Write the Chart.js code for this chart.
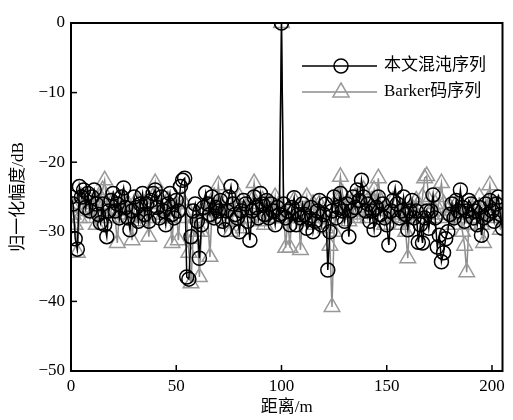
<!DOCTYPE html>
<html>
<head>
<meta charset="utf-8">
<script src="https://cdn.jsdelivr.net/npm/chart.js@4/dist/chart.umd.min.js"></script>
<style>
  html, body { margin: 0; padding: 0; background: #fff; }
  canvas { display: block; }
</style>
</head>
<body>
<canvas id="chart" width="513" height="420"></canvas>
<script>
// Sidelobe data, one value per metre (0..205)
const chaosValues = [
  -25, -26, -31, -32.5, -23.5, -25, -24, -26.5, -24.5, -27,
  -25, -24, -26, -27.5, -28.7, -26, -29, -30.7, -27, -25.5,
  -24.5, -27, -26, -28, -25, -23.7, -26.5, -28, -29.7, -27,
  -25, -26.5, -28.5, -26, -24.5, -27.5, -26, -28.5, -25.5, -24.5,
  -24, -26.5, -28, -25, -27, -29, -26, -24.5, -27.5, -28,
  -25.5, -27, -23.5, -22.6, -22.3, -36.5, -36.8, -30.7, -27, -26,
  -28.5, -33.8, -29, -26.5, -24.4, -26, -27.5, -25, -28, -26.5,
  -27, -25.5, -28.5, -29.7, -27, -25, -23.5, -26, -27.5, -28,
  -30, -27, -25.5, -26, -28.5, -31.2, -27, -25, -26.5, -28,
  -24.5, -26, -27.5, -25.5, -28, -26, -27, -29, -26.5, -27.5,
  0, -26, -28, -27, -29, -26.5, -25.1, -29, -27.5, -28,
  -26, -27.5, -29.5, -28, -26.5, -30, -28.5, -27, -25.5, -29,
  -27.5, -26, -35.5, -30, -27, -25, -28, -26.5, -24.5, -27,
  -28.5, -26, -30.7, -27, -25, -26.5, -24, -25.5, -22.6, -25,
  -27, -26, -28.5, -27, -29.7, -26.5, -25, -27.5, -26, -28,
  -29, -31.9, -27, -25.5, -23.7, -26, -28, -27, -25, -27.5,
  -29.7, -27, -25.5, -28, -27, -31.5, -29, -31.6, -28, -27,
  -29.5, -27, -24.7, -28, -32.2, -30.5, -34.3, -33, -31, -30,
  -27.5, -26, -28, -25.5, -27, -24, -26.5, -28.5, -27, -25.5,
  -26, -28, -27, -29, -26.5, -30.5, -28, -26, -27.5, -25.5,
  -27, -28.5, -26, -25, -27.5, -29.5
];

const barkerValues = [
  -26, -27.5, -29, -33, -28, -25, -26.5, -27, -25, -28,
  -26, -27, -29, -26.5, -25, -24, -22.6, -26, -28, -27,
  -25.5, -28, -31.6, -27, -26, -25, -27.5, -26, -28, -31.2,
  -27, -25.5, -26, -28.5, -27, -26, -28, -30.7, -26.5, -25,
  -23, -26, -27.5, -28, -26, -27, -25.5, -28, -31.6, -27,
  -26, -31.2, -27, -25.5, -26, -28, -33, -37.4, -31, -28,
  -30, -36.5, -30, -27, -26, -28, -33.6, -27, -25, -26.5,
  -23.3, -26, -28, -27, -25.5, -28.5, -30, -27, -26, -28,
  -25, -27, -29.5, -26.5, -27, -28, -25.5, -23, -26, -28.5,
  -27, -25.5, -29, -27, -26, -28, -27.5, -25, -28, -26,
  0, -27, -32.3, -28, -32.3, -27, -25.5, -28, -26.5, -32.6,
  -28, -27, -25, -28.5, -27, -26, -29, -27.5, -26, -28,
  -27, -29.5, -28, -32, -40.8, -30, -27, -25, -22.1, -24.5,
  -27, -26, -28.5, -26, -27.5, -25, -28, -26, -27, -24,
  -26.5, -28, -27, -25.5, -24, -26, -22.3, -25.5, -27, -29,
  -26.5, -28, -27, -25.5, -28, -26, -27.5, -29, -27, -30,
  -33.8, -28, -26.5, -27, -25.5, -28, -27, -25, -22.3, -22,
  -25.5, -27, -28, -26, -27.5, -25, -23, -26, -27.5, -28,
  -26.5, -27, -29, -26, -27.5, -28, -30, -32, -35.8, -29,
  -27, -26, -28, -27.5, -25, -29, -31.6, -27, -25.5, -23.3,
  -26, -27.5, -28, -26, -29.7, -27
];

const distance = chaosValues.map((v, i) => i);
const xTicks = [0, 50, 100, 150, 200];
const yTicks = [-50, -40, -30, -20, -10, 0];
const seriesNames = ['本文混沌序列', 'Barker码序列'];

const serif = '"Liberation Serif", "DejaVu Serif", "Noto Sans CJK SC", serif';

function toPoints(values) {
    return values.map((v, i) => ({ x: distance[i], y: v }));
}

// Frame, inward ticks and the legend
const framePlugin = {
    id: 'frame',
    afterDraw(chart) {
        const ctx = chart.ctx;
        const area = chart.chartArea;
        const xs = chart.scales.x;
        const ys = chart.scales.y;
        ctx.save();
        ctx.strokeStyle = '#000';
        ctx.lineWidth = 1.5;
        xTicks.forEach(t => {
            const px = xs.getPixelForValue(t);
            ctx.beginPath();
            ctx.moveTo(px, area.bottom);
            ctx.lineTo(px, area.bottom - 6);
            ctx.stroke();
        });
        yTicks.forEach(t => {
            const py = ys.getPixelForValue(t);
            ctx.beginPath();
            ctx.moveTo(area.left, py);
            ctx.lineTo(area.left + 6, py);
            ctx.stroke();
        });
        ctx.lineWidth = 2;
        ctx.strokeRect(area.left, area.top, area.right - area.left, area.bottom - area.top);

        // legend
        const items = chart.data.datasets;
        const lx0 = 302, lx1 = 377, mx = 341;
        const rows = [66, 92];
        ctx.font = '17px ' + serif;
        ctx.textBaseline = 'middle';
        ctx.textAlign = 'left';
        items.forEach((ds, i) => {
            const y = rows[i];
            ctx.strokeStyle = ds.borderColor;
            ctx.lineWidth = ds.borderWidth;
            ctx.beginPath();
            ctx.moveTo(lx0, y);
            ctx.lineTo(lx1, y);
            ctx.stroke();
            ctx.strokeStyle = ds.pointBorderColor;
            ctx.lineWidth = ds.pointBorderWidth;
            ctx.fillStyle = '#fff';
            ctx.beginPath();
            if (ds.pointStyle === 'circle') {
                ctx.arc(mx, y, ds.pointRadius, 0, Math.PI * 2);
            } else {
                const r = ds.pointRadius;
                ctx.moveTo(mx, y - r);
                ctx.lineTo(mx + r * 0.9, y + r * 0.55);
                ctx.lineTo(mx - r * 0.9, y + r * 0.55);
                ctx.closePath();
            }
            ctx.stroke();
            ctx.fillStyle = '#000';
            ctx.fillText(ds.label, 384, y);
        });
        ctx.restore();
    }
};

new Chart(document.getElementById('chart'), {
    type: 'line',
    data: {
        datasets: [{
            label: seriesNames[0],
            data: toPoints(chaosValues),
            borderColor: '#000',
            borderWidth: 1.5,
            pointStyle: 'circle',
            pointRadius: 7,
            pointBorderColor: '#000',
            pointBorderWidth: 1.5,
            pointBackgroundColor: 'rgba(0,0,0,0)',
            tension: 0
        }, {
            label: seriesNames[1],
            data: toPoints(barkerValues),
            borderColor: '#8c8c8c',
            borderWidth: 1.5,
            pointStyle: 'triangle',
            pointRadius: 9,
            pointBorderColor: '#999',
            pointBorderWidth: 1.5,
            pointBackgroundColor: 'rgba(0,0,0,0)',
            tension: 0
        }]
    },
    options: {
        responsive: false,
        animation: false,
        layout: { padding: { top: 23, right: 5, left: 0, bottom: 0 } },
        plugins: {
            legend: { display: false },
            tooltip: { enabled: false }
        },
        scales: {
            x: {
                type: 'linear',
                min: 0,
                max: 205,
                afterFit: s => { s.height = 49; },
                afterBuildTicks: s => { s.ticks = xTicks.map(v => ({ value: v })); },
                grid: { display: false, drawTicks: false },
                border: { display: false },
                ticks: { padding: 5, color: '#000', font: { family: serif, size: 17 }, maxRotation: 0 },
                title: {
                    display: true,
                    text: '距离/m',
                    color: '#000',
                    font: { family: serif, size: 17 },
                    padding: { top: 0, bottom: 2 }
                }
            },
            y: {
                min: -50,
                max: 0,
                afterFit: s => { s.width = 71; },
                afterBuildTicks: s => { s.ticks = yTicks.map(v => ({ value: v })); },
                grid: { display: false, drawTicks: false },
                border: { display: false },
                ticks: {
                    padding: 6,
                    color: '#000',
                    font: { family: serif, size: 17 },
                    callback: v => String(v).replace('-', '\u2212')
                },
                title: {
                    display: true,
                    text: '归一化幅度/dB',
                    color: '#000',
                    font: { family: serif, size: 17 },
                    padding: { top: 8, bottom: 0 }
                }
            }
        }
    },
    plugins: [framePlugin]
});
</script>
</body>
</html>
